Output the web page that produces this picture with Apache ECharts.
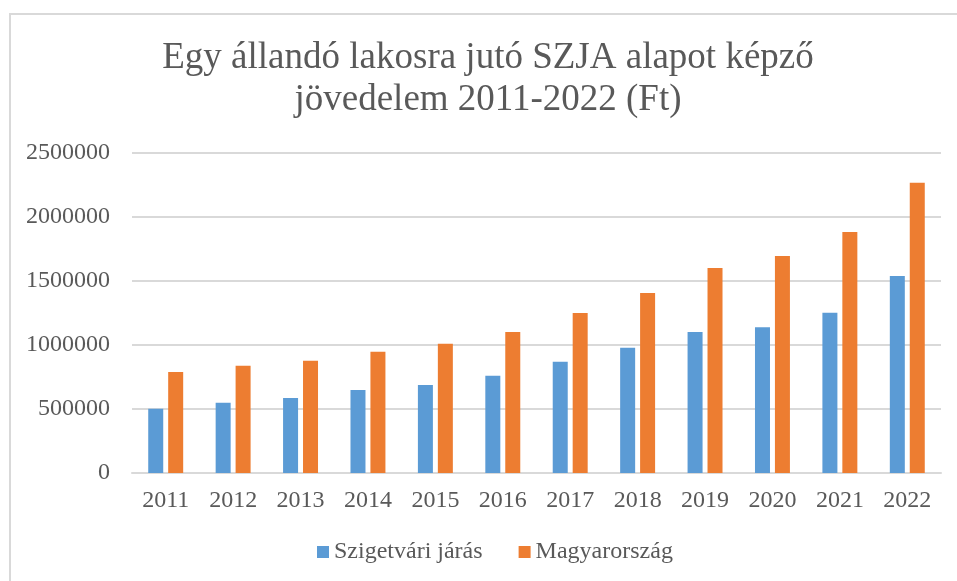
<!DOCTYPE html>
<html>
<head>
<meta charset="utf-8">
<script src="https://cdn.jsdelivr.net/npm/echarts@6/dist/echarts.min.js"></script>
<style>
  html, body { margin: 0; padding: 0; background: #fff; }
  #main { width: 957px; height: 581px; }
</style>
</head>
<body>
<div id="main"></div>
<script>
var years = ['2011', '2012', '2013', '2014', '2015', '2016', '2017', '2018', '2019', '2020', '2021', '2022'];
var szigetvar = [502000, 549000, 586000, 648000, 687000, 760000, 869000, 979000, 1101000, 1138000, 1252000, 1539000];
var magyarorszag = [789000, 838000, 877000, 948000, 1010000, 1101000, 1250000, 1406000, 1601000, 1695000, 1883000, 2268000];
var seriesNames = ['Szigetvári járás', 'Magyarország'];
var titleText = 'Egy állandó lakosra jutó SZJA alapot képző\njövedelem 2011-2022 (Ft)';

var chart = echarts.init(document.getElementById('main'));
var serif = '"Liberation Serif", "Times New Roman", serif';

chart.setOption({
    animation: false,
    color: ['#5B9BD5', '#ED7D31'],
    graphic: [{
        type: 'rect',
        shape: {x: 10, y: 14, width: 1000, height: 620},
        style: {fill: 'none', stroke: '#d9d9d9', lineWidth: 2},
        silent: true
    }],
    title: {
        text: titleText,
        left: 483,
        top: 32,
        textAlign: 'center',
        textStyle: {
            fontFamily: serif,
            fontWeight: 'normal',
            fontSize: 37,
            lineHeight: 42,
            color: '#595959'
        }
    },
    legend: {
        data: seriesNames,
        left: 312,
        top: 535,
        itemWidth: 12,
        itemHeight: 12,
        itemGap: 36,
        icon: 'rect',
        textStyle: {fontFamily: serif, fontSize: 24, color: '#595959'}
    },
    grid: {left: 132, right: 16, top: 153, bottom: 108},
    xAxis: {
        type: 'category',
        data: years,
        axisTick: {show: false},
        axisLine: {lineStyle: {color: '#d9d9d9', width: 2}},
        axisLabel: {fontFamily: serif, fontSize: 24, color: '#595959', margin: 16}
    },
    yAxis: {
        type: 'value',
        min: 0,
        max: 2500000,
        interval: 500000,
        axisLine: {show: false},
        axisTick: {show: false},
        splitLine: {lineStyle: {color: '#d9d9d9', width: 2}},
        axisLabel: {
            fontFamily: serif, fontSize: 24, color: '#595959', margin: 22,
            formatter: function (v) { return String(v); }
        }
    },
    series: [{
        name: seriesNames[0],
        type: 'bar',
        data: szigetvar,
        barWidth: 15,
        barGap: '33%'
    }, {
        name: seriesNames[1],
        type: 'bar',
        data: magyarorszag,
        barWidth: 15,
        barGap: '33%'
    }]
});

window.addEventListener('resize', function () {
    chart.resize();
});
</script>
</body>
</html>
